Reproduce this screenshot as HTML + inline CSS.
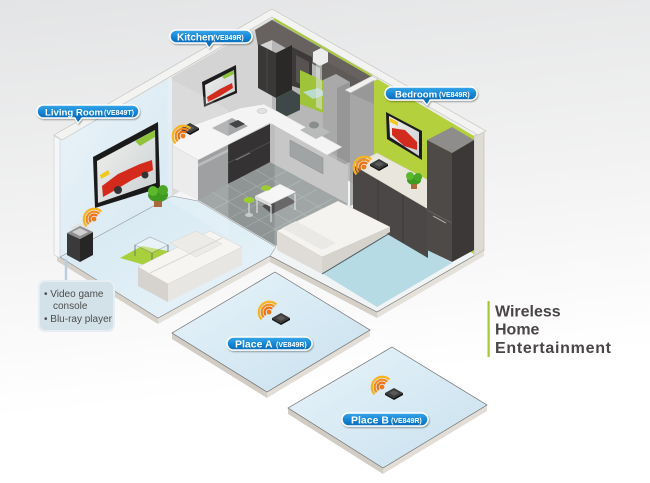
<!DOCTYPE html>
<html><head><meta charset="utf-8">
<style>
html,body{margin:0;padding:0;width:650px;height:483px;overflow:hidden;background:#fff}
svg{display:block}
text{font-family:"Liberation Sans",Arial,sans-serif}
</style></head><body>
<svg width="650" height="483" viewBox="0 0 650 483" xmlns="http://www.w3.org/2000/svg">
<defs>
 <linearGradient id="bg" x1="0" y1="0" x2="0.15" y2="1">
  <stop offset="0" stop-color="#e3e4e5"/>
  <stop offset="0.55" stop-color="#f5f5f5"/>
  <stop offset="0.85" stop-color="#ffffff"/>
 </linearGradient>
 <linearGradient id="pill" x1="0" y1="0" x2="0" y2="1">
  <stop offset="0" stop-color="#3ca8ea"/>
  <stop offset="0.5" stop-color="#1688d6"/>
  <stop offset="1" stop-color="#0a6aba"/>
 </linearGradient>
 <linearGradient id="tile" x1="0" y1="0" x2="1" y2="1">
  <stop offset="0" stop-color="#e8f3fa"/>
  <stop offset="1" stop-color="#c8e1ee"/>
 </linearGradient>
 <linearGradient id="lwall" x1="0" y1="0" x2="1" y2="1">
  <stop offset="0" stop-color="#eaf3f9"/>
  <stop offset="1" stop-color="#d6e7f1"/>
 </linearGradient>
 <linearGradient id="lfloor" x1="0" y1="0" x2="1" y2="1">
  <stop offset="0" stop-color="#d3e7f2"/>
  <stop offset="1" stop-color="#eaf4f9"/>
 </linearGradient>
 <linearGradient id="scr" x1="0" y1="0" x2="1" y2="1">
  <stop offset="0" stop-color="#f2f2ee"/>
  <stop offset="1" stop-color="#c9cfd2"/>
 </linearGradient>
 <filter id="sh" x="-20%" y="-40%" width="140%" height="200%">
  <feDropShadow dx="0.8" dy="1.2" stdDeviation="0.8" flood-color="#000" flood-opacity="0.35"/>
 </filter>
 <g id="wifi">
  <circle cx="0" cy="0" r="2.4" fill="#f07a18"/>
  <path d="M3.18,-3.18 A4.5,4.5 0 0 0 -3.18,3.18" fill="none" stroke="#ef6f14" stroke-width="2.2"/>
  <path d="M5.3,-5.3 A7.5,7.5 0 0 0 -5.3,5.3" fill="none" stroke="#f38c1b" stroke-width="2.2"/>
  <path d="M7.42,-7.42 A10.5,10.5 0 0 0 -7.42,7.42" fill="none" stroke="#f7b420" stroke-width="2.2"/>
 </g>
 <g id="dev">
  <polygon points="-9,0 0,-5 9,0 0,5" fill="#3b3b3b"/>
  <polygon points="-5,0 0,-2.8 5,0 0,2.8" fill="#5a5a5a"/>
  <polygon points="-9,0 0,5 0,7 -9,2" fill="#1e1e1e"/>
  <polygon points="0,5 9,0 9,2 0,7" fill="#111"/>
 </g>
</defs>
<rect width="650" height="483" fill="url(#bg)"/>

<!-- Place A tile -->
<polygon points="172,333 267,392 267,398 172,339" fill="#d2cdc4"/>
<polygon points="267,392 370,330 370,336 267,398" fill="#e2ded7"/>
<polygon points="275,272 370,330 267,392 172,333" fill="url(#tile)" stroke="#6b6b6b" stroke-width="0.7"/>
<!-- Place B tile -->
<polygon points="288,408 383,468 383,474 288,414" fill="#d2cdc4"/>
<polygon points="383,468 487,405 487,411 383,474" fill="#e2ded7"/>
<polygon points="392,347 487,405 383,468 288,408" fill="url(#tile)" stroke="#6b6b6b" stroke-width="0.7"/>

<!-- house slab -->
<polygon points="57,255 158,318 158,324 57,261" fill="#d5d0c8"/>
<polygon points="158,318 270,256 270,262 158,324" fill="#e4e0da"/>
<polygon points="270,256 377,312 377,318 270,262" fill="#d5d0c8"/>
<polygon points="377,312 484,250 484,256 377,318" fill="#e4e0da"/>
<polygon points="57,255 273,131 484,250 377,312 270,256 158,318" fill="#f1f4f5" stroke="#6a6a6a" stroke-width="0.6"/>

<!-- back walls -->
<polygon points="60,140 172,77 172,196 60,257" fill="url(#lwall)"/>
<polygon points="172,77 272,19 272,135 172,196" fill="#d4d4d4"/>
<polygon points="272,19 374,77 374,196 272,135" fill="#b7b7b7"/>
<polygon points="374,77 474,136 474,254 374,196" fill="#b4d03c"/>
<polygon points="474,136 484,131 484,250 474,256" fill="#dedbd4" stroke="#bdb9b1" stroke-width="0.6"/>
<polygon points="54,136 60,139 60,258 54,255" fill="#f4f6f7" stroke="#c8d0d6" stroke-width="0.6"/>

<!-- kitchen upper -->
<polygon points="255,30 272,20 374,78 374,100 272,40 258,46" fill="#67625f"/>
<polygon points="320,58 374,88 374,104 320,80" fill="#5d5a58"/>
<polygon points="258,44 276,53 276,98 258,88" fill="#3a3837"/>
<polygon points="276,53 292,45 292,90 276,98" fill="#2b2928"/>
<line x1="267" y1="49" x2="267" y2="93" stroke="#555" stroke-width="0.6"/>
<polygon points="292,47 312,57 312,92 292,86" fill="#3d3a39"/>
<polygon points="296,55 309,62 309,88 296,82" fill="#575352"/>
<polygon points="300,70 326,82 326,114 300,104" fill="#9fc43a"/>
<polygon points="303,92 318,88 328,94 313,99" fill="#bfe0e8" opacity="0.85"/>
<polygon points="276,98 292,90 300,95 300,110 285,117 276,112" fill="#3e4848"/>
<polygon points="313,52 321,48 328,52 328,62 320,66 313,62" fill="#ececec"/>
<polygon points="316,64 322,64 322,110 316,107" fill="#dfe6e4" opacity="0.55"/>
<polygon points="323,80 336,74 350,82 350,162 337,168 323,158" fill="#a9a9a9"/>
<polygon points="337,88 350,82 350,162 337,168" fill="#969696"/>
<polygon points="345,90 372,76 378,79 351,93" fill="#f0f0ee" stroke="#c5c5c3" stroke-width="0.5"/>
<polygon points="350,93 374,80 374,196 350,206" fill="#a3a3a3" opacity="0.85"/>

<!-- top rims -->
<polygon points="54,135 272,9 486,131 478,135 272,17 62,140" fill="#f3f3f1" stroke="#c6c6c4" stroke-width="0.7"/>
<line x1="274" y1="19" x2="372" y2="76" stroke="#a9c93c" stroke-width="2"/>

<!-- kitchen TV -->
<polygon points="202,82 236,65 237,93 204,107" fill="#1d1d1d"/>
<polygon points="205,85 234,70 235,91 206,104" fill="url(#scr)"/>
<polygon points="207,97 220,89 232,83 233,88 220,96 208,102" fill="#d22c1e"/>
<polygon points="222,76 234,70 234,74 224,79" fill="#8fc23d"/>

<!-- living TV -->
<polygon points="93,157 158,122 160,188 95,208" fill="#1a1a1a"/>
<polygon points="97,161 155,130 156,183 98,203" fill="url(#scr)"/>
<polygon points="102,186 118,174 140,164 152,160 153,170 132,180 112,192 103,197" fill="#d42a1c"/>
<polygon points="135,141 155,130 155,137 140,146" fill="#8fc23d"/>
<polygon points="100,175 108,170 110,174 101,179" fill="#f0c81e"/>
<circle cx="118" cy="190" r="4" fill="#333"/>
<circle cx="145" cy="175" r="3.5" fill="#333"/>

<!-- kitchen counter and cabinets -->
<polygon points="270,124 348,166 348,205 270,163" fill="#bdbdbd"/>
<polygon points="290,140 323,158 323,174 290,156" fill="#8f9494" stroke="#777" stroke-width="0.5"/>
<polygon points="173,146 198,160 198,200 173,188" fill="#e9e9e9"/>
<polygon points="198,160 228,145 228,186 198,201" fill="#8d8e8f"/>
<polygon points="198,164 228,149 228,152 198,167" fill="#aeb0b1"/>
<polygon points="228,145 270,124 270,163 228,184" fill="#343232"/>
<line x1="228" y1="163" x2="270" y2="142" stroke="#555" stroke-width="0.7"/>
<line x1="236" y1="160" x2="250" y2="153" stroke="#888" stroke-width="0.8"/>
<polygon points="173,146 198,160 270,123 327,155 342,147 300,124 264,104 240,108 186,128 173,135" fill="#f4f4f4" stroke="#c9c9c9" stroke-width="0.5"/>
<polygon points="212,128 232,118 248,126 228,136" fill="#a5a7a8"/>
<polygon points="229,124 238,120 245,124 236,128" fill="#444"/>
<polygon points="300,130 314,123 330,132 316,139" fill="#b9bbbb"/>
<ellipse cx="314" cy="125" rx="5" ry="3.5" fill="#8a8d8e"/>
<ellipse cx="262" cy="111" rx="5" ry="2.5" fill="#e2e2e2" stroke="#bbb" stroke-width="0.5"/>

<!-- dining floor -->
<polygon points="198,200 270,162 348,204 276,246" fill="#8f9595"/>
<g stroke="#a9afaf" stroke-width="0.6">
 <line x1="213.6" y1="209.2" x2="285.6" y2="171.2"/>
 <line x1="229.2" y1="218.4" x2="301.2" y2="180.4"/>
 <line x1="244.8" y1="227.6" x2="316.8" y2="189.6"/>
 <line x1="260.4" y1="236.8" x2="332.4" y2="198.8"/>
 <line x1="212.4" y1="192.4" x2="290.4" y2="238.4"/>
 <line x1="226.8" y1="184.8" x2="304.8" y2="230.8"/>
 <line x1="241.2" y1="177.2" x2="319.2" y2="223.2"/>
 <line x1="255.6" y1="169.6" x2="333.6" y2="215.6"/>
</g>
<!-- dining table -->
<polygon points="262,206 285,195 296,202 272,214" fill="#4e4e4e"/>
<line x1="257" y1="198" x2="257" y2="213" stroke="#ddd" stroke-width="1.2"/>
<line x1="271" y1="205" x2="271" y2="222" stroke="#ddd" stroke-width="1.2"/>
<line x1="295" y1="194" x2="295" y2="210" stroke="#ddd" stroke-width="1.2"/>
<polygon points="255,196 280,184 296,192 271,204" fill="#f5f5f5" stroke="#bbb" stroke-width="0.5"/>
<polygon points="255,196 271,204 271,207 255,199" fill="#dcdcdc"/>
<line x1="249" y1="201" x2="249" y2="214" stroke="#ccc" stroke-width="1.5"/>
<ellipse cx="249" cy="215" rx="4" ry="2" fill="#c9c9c9"/>
<ellipse cx="249" cy="200" rx="5.5" ry="3" fill="#9ccc2f"/>
<ellipse cx="266" cy="188" rx="5" ry="2.8" fill="#9ccc2f"/>

<!-- living floor -->
<polygon points="60,257 172,196 198,201 276,247 270,256 158,318" fill="url(#lfloor)" stroke="#7a7a7a" stroke-width="0.5"/>

<!-- glass partitions -->
<polygon points="168,78 228,110 228,236 168,200" fill="#ffffff" opacity="0.16" stroke="#ffffff" stroke-width="0.8"/>
<polygon points="275,122 348,163 348,205 275,250" fill="#ffffff" opacity="0.15" stroke="#ffffff" stroke-width="0.8"/>

<!-- bedroom -->
<polygon points="390,230 452,263 377,307 320,272" fill="#b7dbe5"/>
<polygon points="353,165 428,209 428,258 353,214" fill="#4b4746"/>
<line x1="378" y1="180" x2="378" y2="228" stroke="#3a3736" stroke-width="0.8"/>
<line x1="403" y1="195" x2="403" y2="243" stroke="#3a3736" stroke-width="0.8"/>
<polygon points="353,165 377,153 428,180 428,209" fill="#e9e7dd" stroke="#cfccc0" stroke-width="0.5"/>
<polygon points="427,140 452,127 474,140 452,153" fill="#8f8d8b"/>
<polygon points="427,140 452,153 452,262 427,250" fill="#4d4a48"/>
<polygon points="452,153 474,140 474,250 452,262" fill="#3b3837"/>
<line x1="427" y1="210" x2="452" y2="223" stroke="#6a6664" stroke-width="0.8"/>
<line x1="433" y1="216" x2="446" y2="223" stroke="#aaa" stroke-width="1"/>
<!-- bedroom TV -->
<polygon points="386,112 422,131 422,160 387,139" fill="#1d1d1d"/>
<polygon points="389,116 419,132 419,156 390,137" fill="url(#scr)"/>
<polygon points="392,128 405,130 417,142 417,150 404,146 392,135" fill="#d22c1e"/>
<polygon points="390,118 398,122 398,126 390,122" fill="#f0c81e"/>
<!-- bedroom plant -->
<g fill="#3f9a22">
 <ellipse cx="414" cy="180" rx="7" ry="5"/>
 <ellipse cx="410" cy="176" rx="4" ry="4" fill="#5cb82d"/>
 <ellipse cx="418" cy="177" rx="4" ry="4" fill="#4aa826"/>
</g>
<rect x="411" y="184" width="6" height="5" fill="#a86a3a"/>
<!-- bed -->
<polygon points="277,231 322,257 322,274 277,250" fill="#dfdcd7"/>
<polygon points="322,257 390,227 390,232 322,273" fill="#d6d3cd"/>
<polygon points="277,231 338,201 390,227 322,257" fill="#f4f3f0" stroke="#d0cdc7" stroke-width="0.5"/>
<polygon points="282,228 296,221 336,243 322,250" fill="#ebe9e5"/>
<line x1="322" y1="274" x2="390" y2="233" stroke="#555" stroke-width="1"/>

<!-- living room furniture -->
<polygon points="120,258 142,246 178,253 155,268" fill="#a8cf3c"/>
<polygon points="135,245 150,237 168,245 152,253" fill="#ffffff" opacity="0.35" stroke="#666" stroke-width="0.8"/>
<g stroke="#666" stroke-width="0.8">
 <line x1="135" y1="245" x2="135" y2="256"/>
 <line x1="152" y1="253" x2="152" y2="264"/>
 <line x1="168" y1="245" x2="168" y2="256"/>
</g>
<polygon points="138,267 168,284 168,302 138,286" fill="#d6d3ce"/>
<polygon points="168,284 242,247 242,265 168,302" fill="#e8e6e2"/>
<polygon points="138,267 210,231 242,247 168,284" fill="#f6f5f2" stroke="#d3d0cb" stroke-width="0.5"/>
<polygon points="170,243 196,231 222,244 196,257" fill="#ecebe7" stroke="#d8d5d0" stroke-width="0.5"/>
<line x1="150" y1="273" x2="222" y2="238" stroke="#dad7d2" stroke-width="1"/>
<!-- plant living -->
<g>
 <ellipse cx="158" cy="195" rx="10" ry="7" fill="#3f9a22"/>
 <ellipse cx="153" cy="191" rx="5" ry="5" fill="#5cb82d"/>
 <ellipse cx="163" cy="190" rx="5" ry="5" fill="#4aa826"/>
 <rect x="154" y="201" width="8" height="6" fill="#a86a3a"/>
</g>
<!-- console -->
<polygon points="70,228 80,223 90,228 80,233" fill="#e2e2e2"/>
<polygon points="67,233 80,239 80,262 67,255" fill="#3a3a3a"/>
<polygon points="80,239 93,232 93,255 80,262" fill="#262626"/>
<polygon points="67,233 80,226 93,232 80,239" fill="#8e8e8e"/>
<polygon points="72,232 80,228 88,232 80,236" fill="#cfcfcf"/>

<!-- connector + bullet box -->
<line x1="66" y1="259" x2="66" y2="283" stroke="#b6d0dd" stroke-width="2.5"/>
<rect x="39" y="281" width="75" height="50" rx="6" fill="#d3e1e9" stroke="#e6eef3" stroke-width="2"/>
<text x="44" y="297" font-size="10" fill="#4d4d4d">• Video game</text>
<text x="53" y="309" font-size="10" fill="#4d4d4d">console</text>
<text x="44" y="322" font-size="10" fill="#4d4d4d">• Blu-ray player</text>

<!-- wifi icons and devices -->
<use href="#dev" x="190" y="128"/>
<use href="#wifi" x="183" y="136"/>
<use href="#wifi" x="94" y="219"/>
<use href="#dev" x="379" y="164"/>
<use href="#wifi" x="364" y="167"/>
<use href="#dev" x="281" y="318"/>
<use href="#wifi" x="269" y="312"/>
<use href="#dev" x="394" y="393"/>
<use href="#wifi" x="382" y="387"/>

<!-- pills -->
<g filter="url(#sh)">
 <polygon points="205,42 214,42 209,48" fill="#0f6fbe" stroke="#fff" stroke-width="1.2"/>
 <rect x="170" y="30" width="82" height="13" rx="6.5" fill="url(#pill)" stroke="#fff" stroke-width="1.5"/>
 <polygon points="206,42 213,42 209,46" fill="#0f6fbe"/>
</g>
<text x="177" y="40.5" font-size="10" font-weight="bold" fill="#fff">Kitchen</text>
<text x="213" y="40" font-size="7" font-weight="bold" fill="#fff">(VE849R)</text>

<g filter="url(#sh)">
 <polygon points="74,117 83,117 78,123" fill="#0f6fbe" stroke="#fff" stroke-width="1.2"/>
 <rect x="37" y="105" width="102" height="13" rx="6.5" fill="url(#pill)" stroke="#fff" stroke-width="1.5"/>
 <polygon points="75,117 82,117 78,121" fill="#0f6fbe"/>
</g>
<text x="45" y="115.5" font-size="9.6" font-weight="bold" fill="#fff">Living Room</text>
<text x="104" y="115" font-size="7" font-weight="bold" fill="#fff">(VE849T)</text>

<g filter="url(#sh)">
 <polygon points="422,99 431,99 427,105" fill="#0f6fbe" stroke="#fff" stroke-width="1.2"/>
 <rect x="385" y="87" width="92" height="13" rx="6.5" fill="url(#pill)" stroke="#fff" stroke-width="1.5"/>
 <polygon points="423,99 430,99 427,103" fill="#0f6fbe"/>
</g>
<text x="395" y="97.5" font-size="9.6" font-weight="bold" fill="#fff">Bedroom</text>
<text x="439" y="97" font-size="7" font-weight="bold" fill="#fff">(VE849R)</text>

<g filter="url(#sh)">
 <rect x="227" y="337" width="85" height="13" rx="6.5" fill="url(#pill)" stroke="#fff" stroke-width="1.5"/>
</g>
<text x="235" y="347.5" font-size="10.5" font-weight="bold" fill="#fff">Place A</text>
<text x="276" y="347" font-size="7" font-weight="bold" fill="#fff">(VE849R)</text>

<g filter="url(#sh)">
 <rect x="342" y="413" width="86" height="13" rx="6.5" fill="url(#pill)" stroke="#fff" stroke-width="1.5"/>
</g>
<text x="351" y="423.5" font-size="10.5" font-weight="bold" fill="#fff">Place B</text>
<text x="391" y="423" font-size="7" font-weight="bold" fill="#fff">(VE849R)</text>

<!-- title -->
<rect x="487.5" y="301" width="2.2" height="56" fill="#a6c93a"/>
<text x="495" y="316.5" font-size="16" font-weight="bold" fill="#4a4646">Wireless</text>
<text x="495" y="334.5" font-size="16" font-weight="bold" fill="#4a4646">Home</text>
<text x="495" y="353" font-size="16" font-weight="bold" fill="#4a4646" textLength="116" lengthAdjust="spacing">Entertainment</text>
</svg>
</body></html>
